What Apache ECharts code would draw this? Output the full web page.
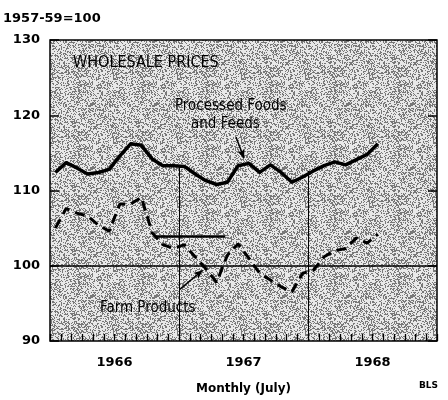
<!DOCTYPE html>
<html>
<head>
<meta charset="utf-8">
<script src="https://cdn.jsdelivr.net/npm/echarts@6/dist/echarts.min.js"></script>
<style>
  html, body { margin: 0; padding: 0; background: #fff; }
  #chart { width: 448px; height: 400px; }
</style>
</head>
<body>
<div id="chart"></div>
<script>
// months from Jan 1966 (0) to Jul 1968 (30), plotted at month centres
var processedFoods = [112.4, 113.7, 113.0, 112.2, 112.4, 112.8, 114.6, 116.2, 116.0, 114.2,
  113.3, 113.3, 113.2, 112.2, 111.3, 110.8, 111.1, 113.3, 113.6, 112.4,
  113.4, 112.4, 111.1, 111.8, 112.6, 113.3, 113.8, 113.4, 114.1, 114.8, 116.2];
var farmProducts = [105.0, 107.6, 107.0, 106.6, 105.4, 104.6, 108.2, 108.2, 109.1, 104.4,
  102.8, 102.3, 102.8, 101.2, 99.6, 97.8, 101.4, 102.9, 101.0, 99.0,
  98.1, 97.2, 96.5, 99.0, 99.4, 101.2, 102.0, 102.3, 103.7, 103.0, 104.2];
var yearTicks = [6, 18, 30];
var yearLabels = ['1966', '1967', '1968'];
var yearBreaks = [12, 24];
var baseLevel = 100;
var refLevel = 103.9, refFrom = 9.8, refTo = 16.3;

function pairs(vals) {
  return vals.map(function (v, i) { return [i + 0.5, v]; });
}

// halftone-like screen for the plot area
function screen() {
  var c = document.createElement('canvas');
  c.width = 64; c.height = 64;
  var ctx = c.getContext('2d');
  var img = ctx.createImageData(64, 64);
  var s = 12345;
  for (var p = 0; p < 64 * 64; p++) {
    s = (s * 1103515245 + 12345) & 0x7fffffff;
    var g = (s >> 8) % 100 < 36 ? 120 : 232;
    img.data[p * 4] = g; img.data[p * 4 + 1] = g; img.data[p * 4 + 2] = g; img.data[p * 4 + 3] = 255;
  }
  ctx.putImageData(img, 0, 0);
  return { image: c, repeat: 'repeat' };
}

var chart = echarts.init(document.getElementById('chart'), null, { renderer: 'canvas' });
var bold = 'DejaVu Sans';
var narrow = '"Liberation Sans Narrow", "DejaVu Sans Condensed", "Roboto Condensed", sans-serif';

var breakLines = yearBreaks.map(function (m) {
  return [{ coord: [m, 90] }, { coord: [m, processedFoods[m]] }];
});

var option = {
  animation: false,
  backgroundColor: '#fff',
  grid: {
    left: 50, right: 11, top: 40, bottom: 56,
    show: true, backgroundColor: screen(), borderColor: '#000', borderWidth: 1.5
  },
  xAxis: {
    type: 'value', min: 0, max: 36, interval: 1,
    axisLine: { show: false },
    axisTick: { show: true, inside: true, length: 7, lineStyle: { color: '#000', width: 1.3 } },
    splitLine: { show: false },
    axisLabel: {
      margin: 15, color: '#000', fontFamily: bold, fontWeight: 'bold', fontSize: 13,
      formatter: function (v) {
        var k = yearTicks.indexOf(v);
        return k >= 0 ? yearLabels[k] : '';
      }
    },
    name: 'Monthly (July)', nameLocation: 'middle', nameGap: 42,
    nameTextStyle: { color: '#000', fontFamily: bold, fontWeight: 'bold', fontSize: 12 }
  },
  yAxis: [{
    type: 'value', min: 90, max: 130, interval: 10,
    axisLine: { show: false },
    axisTick: { show: true, inside: true, length: 9, lineStyle: { color: '#000', width: 1.5 } },
    splitLine: { show: false },
    axisLabel: { margin: 10, color: '#000', fontFamily: bold, fontWeight: 'bold', fontSize: 13 }
  }, {
    type: 'value', min: 90, max: 130, interval: 10, position: 'right',
    axisLine: { show: false },
    axisTick: { show: true, inside: true, length: 9, lineStyle: { color: '#000', width: 1.5 } },
    splitLine: { show: false },
    axisLabel: { show: false }
  }],
  series: [{
    name: 'Processed Foods and Feeds',
    type: 'line',
    data: pairs(processedFoods),
    symbol: 'none',
    lineStyle: { color: '#000', width: 3.5, join: 'round' },
    z: 5,
    markLine: {
      silent: true, symbol: 'none', label: { show: false },
      lineStyle: { color: '#000', width: 1, type: 'solid' },
      data: breakLines.concat([
        [{ yAxis: baseLevel, x: 50, lineStyle: { width: 1.5 } }, { yAxis: baseLevel, x: 437 }],
        [{ coord: [refFrom, refLevel], lineStyle: { width: 2.5 } }, { coord: [refTo, refLevel] }],
        [{ coord: [17.3, 117.1], lineStyle: { width: 1.5 } },
         { coord: [18.05, 114.3], symbol: 'arrow', symbolSize: [6, 9] }],
        [{ coord: [12.1, 96.9], lineStyle: { width: 1.5 } },
         { coord: [14.2, 99.4], symbol: 'arrow', symbolSize: [6, 9] }]
      ])
    }
  }, {
    name: 'Farm Products',
    type: 'line',
    data: pairs(farmProducts),
    symbol: 'none',
    lineStyle: { color: '#000', width: 3, type: [10, 6] },
    z: 5
  }],
  graphic: [
    { type: 'text', left: 3, top: 12,
      style: { text: '1957-59=100', fill: '#000', font: 'bold 13px "DejaVu Sans"' } },
    { type: 'text', left: 73, top: 55,
      style: { text: 'WHOLESALE PRICES', fill: '#000', font: '16px ' + narrow } },
    { type: 'text', left: 175, top: 99,
      style: { text: 'Processed Foods', fill: '#000', font: '15px ' + narrow } },
    { type: 'text', left: 191, top: 117,
      style: { text: 'and Feeds', fill: '#000', font: '15px ' + narrow } },
    { type: 'text', left: 100, top: 301,
      style: { text: 'Farm Products', fill: '#000', font: '15px ' + narrow } },
    { type: 'text', left: 419, top: 381,
      style: { text: 'BLS', fill: '#000', font: 'bold 9px "DejaVu Sans"' } }
  ]
};

chart.setOption(option);
</script>
</body>
</html>
